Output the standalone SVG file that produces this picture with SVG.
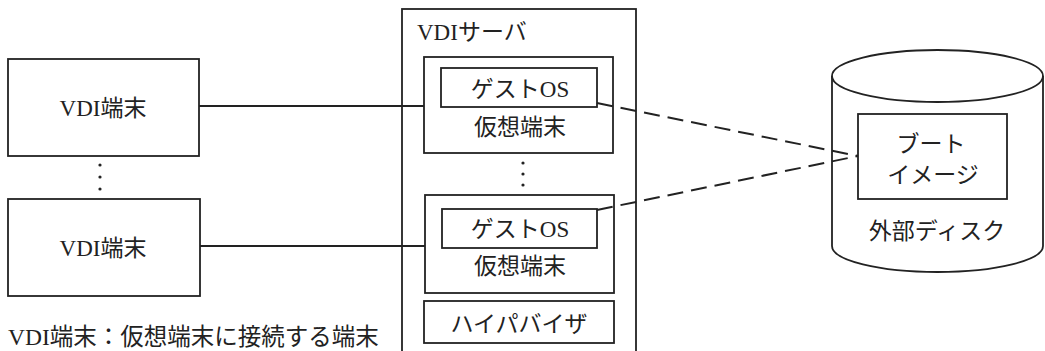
<svg xmlns="http://www.w3.org/2000/svg" width="1045" height="351" viewBox="0 0 1045 351">
<style>
.box{fill:none;stroke:#222;stroke-width:1.8}
.ln{fill:none;stroke:#222;stroke-width:1.8}
.dash{fill:none;stroke:#222;stroke-width:2;stroke-dasharray:16 8}
.t{font-family:"Liberation Serif","Noto Sans CJK JP",serif;font-size:23px;fill:#222}
.m{text-anchor:middle}
.dot{fill:#222}
</style>
<rect width="1045" height="351" fill="#fff"/>
<g id="vdi-terminal-1">
<rect class="box" x="8" y="59" width="191" height="97"/>
<text class="t m" x="103" y="116">VDI端末</text>
</g>
<g id="terminal-dots">
<circle class="dot" cx="100" cy="165" r="1.6"/>
<circle class="dot" cx="100" cy="177" r="1.6"/>
<circle class="dot" cx="100" cy="189" r="1.6"/>
</g>
<g id="vdi-terminal-2">
<rect class="box" x="8" y="199" width="192" height="97"/>
<text class="t m" x="103" y="256">VDI端末</text>
</g>
<g id="vdi-server">
<rect class="box" x="402" y="9" width="234" height="350"/>
<text class="t" x="417" y="40">VDIサーバ</text>
</g>
<g id="virtual-terminal-1">
<rect class="box" x="424" y="57" width="189" height="96"/>
<rect class="box" x="441" y="68" width="156" height="39"/>
<text class="t m" x="520" y="97">ゲストOS</text>
<text class="t m" x="520" y="135">仮想端末</text>
</g>
<g id="vt-dots">
<circle class="dot" cx="523" cy="163" r="1.6"/>
<circle class="dot" cx="523" cy="174" r="1.6"/>
<circle class="dot" cx="523" cy="185" r="1.6"/>
</g>
<g id="virtual-terminal-2">
<rect class="box" x="425" y="195" width="189" height="98"/>
<rect class="box" x="442" y="209" width="155" height="39"/>
<text class="t m" x="520" y="237">ゲストOS</text>
<text class="t m" x="520" y="274">仮想端末</text>
</g>
<g id="hypervisor">
<rect class="box" x="424" y="301" width="190" height="42"/>
<text class="t m" x="519" y="332">ハイパバイザ</text>
</g>
<g id="external-disk">
<path class="box" d="M832,76 L832,246 A105.5,26 0 0 0 1043,246 L1043,76"/>
<ellipse class="box" cx="937.5" cy="76" rx="105.5" ry="26"/>
<rect class="box" x="858" y="114" width="149" height="85"/>
<text class="t m" x="931" y="152">ブート</text>
<text class="t m" x="933" y="183">イメージ</text>
<text class="t m" x="937" y="239">外部ディスク</text>
</g>
<g id="connectors">
<line class="ln" x1="199" y1="106" x2="424" y2="106"/>
<line class="ln" x1="200" y1="246" x2="425" y2="246"/>
<line class="dash" x1="597" y1="103" x2="858" y2="156"/>
<line class="dash" x1="597" y1="210" x2="858" y2="156"/>
</g>
<g id="footnote">
<text class="t" x="8" y="345" style="font-size:23.5px">VDI端末：仮想端末に接続する端末</text>
</g>
</svg>
